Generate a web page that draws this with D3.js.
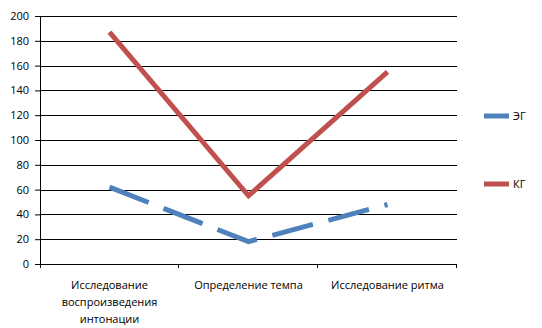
<!DOCTYPE html>
<html lang="ru">
<head>
    <meta charset="UTF-8">
    <title>ЭГ / КГ</title>
    <script src="https://d3js.org/d3.v7.min.js"></script>
    <style>
        body { margin: 0; background: #fff; overflow: hidden; }
        svg { display: block; }
        text { font-family: "Open Sans", "DejaVu Sans", sans-serif; fill: #000; }
    </style>
</head>
<body>
    <div id="chart"></div>
    <script>
        const categories = ["Исследование воспроизведения интонации", "Определение темпа", "Исследование ритма"];
        const seriesNames = ["ЭГ", "КГ"];
        const egValues = [62, 18, 48];
        const kgValues = [187, 55, 155];
        const yTicks = [0, 20, 40, 60, 80, 100, 120, 140, 160, 180, 200];

        const width = 542;
        const height = 328;
        const margin = { top: 16, right: 85, bottom: 64, left: 40 };
        const innerWidth = width - margin.left - margin.right;
        const innerHeight = height - margin.top - margin.bottom;

        const svg = d3.select("#chart")
            .append("svg")
            .attr("width", width)
            .attr("height", height);

        const g = svg.append("g")
            .attr("transform", `translate(${margin.left}, ${margin.top})`);

        const x = d3.scaleBand()
            .domain(categories)
            .range([0, innerWidth]);

        const y = d3.scaleLinear()
            .domain([0, 200])
            .range([innerHeight, 0]);

        // gridlines
        g.append("g")
            .selectAll("line")
            .data(yTicks.slice(1))
            .join("line")
            .attr("x1", 0)
            .attr("x2", innerWidth)
            .attr("y1", d => Math.round(y(d)) + 0.5)
            .attr("y2", d => Math.round(y(d)) + 0.5)
            .attr("stroke", "#000")
            .attr("stroke-width", 1);

        // y axis
        const yAxis = g.append("g")
            .call(d3.axisLeft(y).tickValues(yTicks).tickSize(5).tickPadding(6).tickFormat(d3.format("d")));
        yAxis.selectAll("text").style("font-size", "11px").attr("fill", "#000");
        yAxis.selectAll("line, path").attr("stroke", "#000");
        yAxis.select(".domain").attr("d", `M0.5,0V${innerHeight + 4}`);

        // x axis (labels drawn separately so they can wrap)
        const xAxis = g.append("g")
            .attr("transform", `translate(0, ${innerHeight})`)
            .call(d3.axisBottom(x).tickSize(0).tickFormat(""));
        xAxis.select(".domain").attr("stroke", "#000").attr("d", `M0,0.5H${innerWidth}`);

        // boundary ticks
        xAxis.append("g")
            .selectAll("line")
            .data(categories)
            .join("line")
            .attr("x1", d => Math.round(x(d) + x.bandwidth()) - 0.5)
            .attr("x2", d => Math.round(x(d) + x.bandwidth()) - 0.5)
            .attr("y1", 0)
            .attr("y2", 4)
            .attr("stroke", "#000");

        // wrap category labels into separate lines
        const probe = svg.append("text").style("font-size", "11px");
        function wrap(label) {
            const lines = [];
            let cur = "";
            label.split(" ").forEach(w => {
                const trial = cur ? cur + " " + w : w;
                probe.text(trial);
                if (probe.node().getComputedTextLength() > 130 && cur) {
                    lines.push(cur);
                    cur = w;
                } else {
                    cur = trial;
                }
            });
            lines.push(cur);
            return lines;
        }
        const labelLines = categories.flatMap(c => wrap(c).map((t, i) => ({ c, t, i })));
        probe.remove();

        xAxis.append("g")
            .selectAll("text")
            .data(labelLines)
            .join("text")
            .attr("x", d => x(d.c) + x.bandwidth() / 2)
            .attr("y", d => 25 + d.i * 17)
            .attr("text-anchor", "middle")
            .style("font-size", "11px")
            .text(d => d.t);

        const line = d3.line()
            .x((d, i) => x(categories[i]) + x.bandwidth() / 2)
            .y(d => y(d));

        g.append("path")
            .datum(egValues)
            .attr("d", line)
            .attr("fill", "none")
            .attr("stroke", "#4F81BD")
            .attr("stroke-width", 5)
            .attr("stroke-dasharray", "42,16");

        g.append("path")
            .datum(kgValues)
            .attr("d", line)
            .attr("fill", "none")
            .attr("stroke", "#C0504D")
            .attr("stroke-width", 5)
            .attr("stroke-linejoin", "miter");

        // legend
        const colors = ["#4F81BD", "#C0504D"];
        const legendY = [116, 184];
        const legend = svg.append("g")
            .selectAll("g")
            .data(seriesNames)
            .join("g")
            .attr("transform", (d, i) => `translate(484, ${legendY[i]})`);

        legend.append("line")
            .attr("x1", 0)
            .attr("x2", 25)
            .attr("stroke", (d, i) => colors[i])
            .attr("stroke-width", 5);

        legend.append("text")
            .attr("x", 29)
            .attr("dy", "0.35em")
            .style("font-size", "11px")
            .text(d => d);
    </script>
</body>
</html>
